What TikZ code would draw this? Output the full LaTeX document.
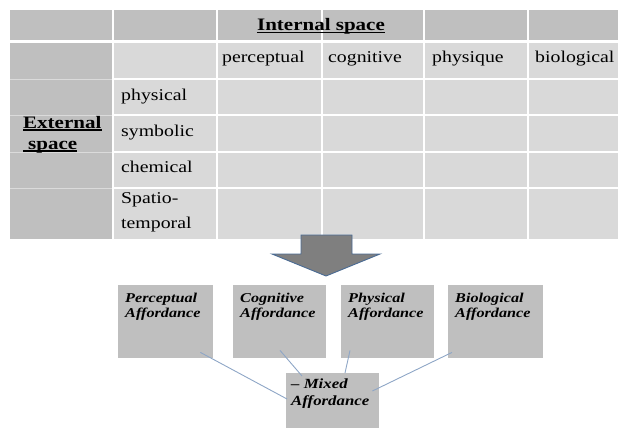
\documentclass[tikz,border=0pt]{standalone}
\usepackage{fontspec}
\setmainfont{Liberation Serif}[FakeStretch=1.2]
\definecolor{hdr}{HTML}{BFBFBF}
\definecolor{cell}{HTML}{D9D9D9}
\definecolor{boxgray}{HTML}{BFBFBF}
\definecolor{arrfill}{HTML}{7F7F7F}
\definecolor{arredge}{HTML}{4A6B94}
\definecolor{conn}{HTML}{8EA6C6}
\begin{document}
\begin{tikzpicture}[x=1pt,y=-1pt,
  celltext/.style={anchor=base west, inner sep=0pt, font=\fontsize{16.5}{19}\selectfont},
  headtext/.style={inner sep=0pt, font=\fontsize{17.5}{20}\selectfont\bfseries},
  gridline/.style={draw=white, line width=1.5pt},
  faintline/.style={draw=white, draw opacity=0.45, line width=1pt},
  uline/.style={draw=black, line width=1.1pt},
  affbox/.style={fill=boxgray, minimum height=73pt, anchor=north west, inner sep=0pt},
  afftext/.style={anchor=north west, inner sep=0pt, align=left,
    font=\fontsize{13.5}{14.5}\selectfont\bfseries\itshape},
  connector/.style={draw=conn, line width=0.9pt}]
\useasboundingbox (0,0) rectangle (618,428);
% table background
\fill[cell] (10,10) rectangle (618,239);
\fill[hdr] (10,10) rectangle (618,42);
\fill[hdr] (10,42) rectangle (113,239);
% grid lines
\draw[draw=white, line width=3pt] (10,42) -- (618,42);
\foreach \yy in {79,115,152,188} {
  \draw[faintline] (10,\yy) -- (113,\yy);
  \draw[gridline] (113,\yy) -- (618,\yy);
}
\foreach \xx in {113,217,322,424,528} \draw[gridline] (\xx,10) -- (\xx,239);
% header texts
\node[headtext, anchor=base] (ins) at (321,30.5) {Internal space};
\draw[uline] ([yshift=-2pt]ins.base west) -- ([yshift=-2pt]ins.base east);
\node[headtext, anchor=base west] (ext1) at (23,128) {External};
\draw[uline] ([yshift=-2pt]ext1.base west) -- ([yshift=-2pt]ext1.base east);
\node[headtext, anchor=base west] (ext2) at (28,149) {space};
\draw[uline] ([shift={(-5,2)}]ext2.base west) -- ([yshift=-2pt]ext2.base east);
% column heads
\node[celltext] (c1) at (222,63) {perceptual};
\node[celltext] (c2) at (328,63) {cognitive};
\node[celltext] (c3) at (432,63) {physique};
\node[celltext] (c4) at (535,63) {biological};
% row heads
\node[celltext] (r1) at (121,100) {physical};
\node[celltext] (r2) at (121,136) {symbolic};
\node[celltext] (r3) at (121,172) {chemical};
\node[celltext] (r4a) at (121,203) {Spatio-};
\node[celltext] (r4b) at (121,228) {temporal};
% big arrow
\draw[fill=arrfill, draw=arredge, line width=0.9pt]
  (301,235) -- (352,235) -- (352,254) -- (380,254) -- (326,276) -- (272,254) -- (301,254) -- cycle;
% affordance boxes
\node[affbox, minimum width=95pt] (perc) at (118,285) {};
\node[affbox, minimum width=93pt] (cogn) at (233,285) {};
\node[affbox, minimum width=93pt] (phys) at (341,285) {};
\node[affbox, minimum width=95pt] (biol) at (448,285) {};
\node[affbox, minimum width=93pt, minimum height=56pt] (mix) at (286,373) {};
\node[afftext] (perct) at ([shift={(7,8)}]perc.north west) {Perceptual\\Affordance};
\node[afftext] (cognt) at ([shift={(7,8)}]cogn.north west) {Cognitive\\Affordance};
\node[afftext] (physt) at ([shift={(7,8)}]phys.north west) {Physical\\Affordance};
\node[afftext] (biolt) at ([shift={(7,8)}]biol.north west) {Biological\\Affordance};
\node[afftext, font=\fontsize{14}{17}\selectfont\bfseries\itshape] (mixt) at ([shift={(5,6)}]mix.north west) {– Mixed\\Affordance};
% connectors
\draw[connector] ([shift={(-13,-6)}]perc.south east) -- ([shift={(1,26)}]mix.north west);
\draw[connector] ([shift={(47,-8)}]cogn.south west) -- ([shift={(16,3)}]mix.north west);
\draw[connector] ([shift={(9,-8)}]phys.south west) -- ([shift={(59,0)}]mix.north west);
\draw[connector] ([shift={(4,-6)}]biol.south west) -- ([shift={(-7,18)}]mix.north east);
\end{tikzpicture}
\end{document}
